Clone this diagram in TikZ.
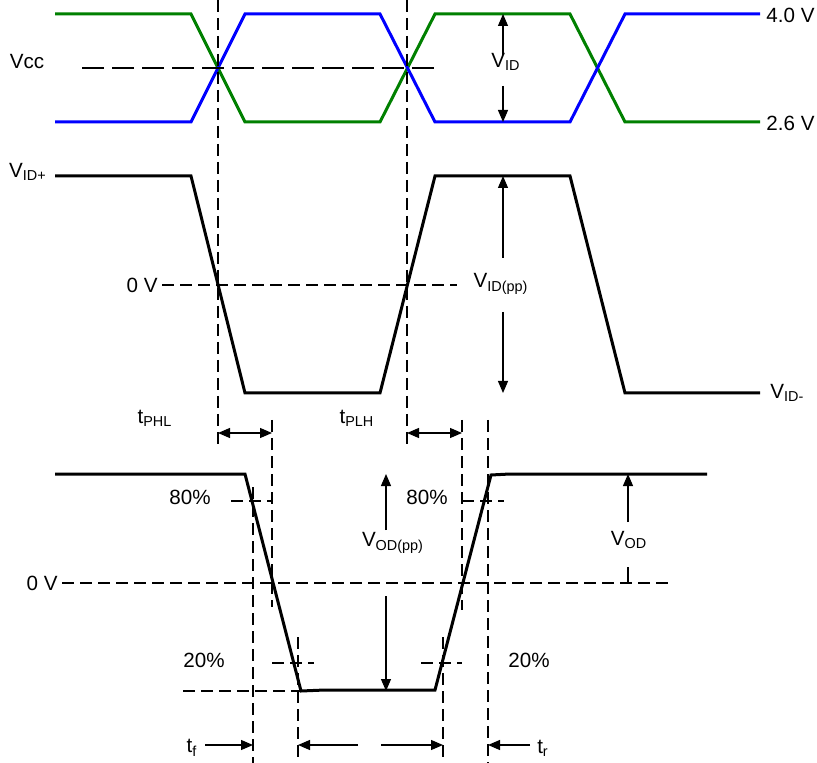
\documentclass[tikz,border=0pt]{standalone}
\usepackage{fontspec}
\setmainfont{Liberation Sans}
\usetikzlibrary{arrows.meta}
\definecolor{sigblue}{RGB}{0,0,255}
\definecolor{siggreen}{RGB}{0,128,0}
\tikzset{
  wave/.style={line width=1.5pt},
  guide/.style={line width=0.6pt,dash pattern=on 6pt off 3pt},
  longguide/.style={line width=0.6pt,dash pattern=on 11pt off 4pt},
  dim/.style={line width=0.6pt,-{Triangle[length=6pt,width=5pt]}},
  dimboth/.style={line width=0.6pt,{Triangle[length=6pt,width=5pt]}-{Triangle[length=6pt,width=5pt]}},
  lbl/.style={inner sep=1pt,font=\fontsize{10.3}{12}\selectfont}
}
\begin{document}
\begin{tikzpicture}[x=0.5pt,y=-0.5pt]
            \useasboundingbox (0,0) rectangle (817,763);
            % input pair
            \draw[wave,siggreen](55,14)--(191,14)--(245,122)--(380,122)--(435,14)--(570,14)--(625,122)--(760,122);
            \draw[wave,sigblue](55,122)--(191,122)--(245,14)--(380,14)--(435,122)--(570,122)--(625,14)--(760,14);
            \draw[longguide](82,68)--(435,68);
            \node[lbl] (vcc) at (27,62) {Vcc};
            \node[lbl,anchor=west] (vhi) at (764,15) {4.0 V};
            \node[lbl,anchor=west] (vlo) at (764,123) {2.6 V};
            \node[lbl] (vid) at (506,62) {V\textsubscript{ID}};
            \draw[dim](503,55)--(503,14);
            \draw[dim](503,86)--(503,122);
            % differential input
            \draw[wave](55,176)--(191,176)--(245,393)--(380,393)--(435,176)--(570,176)--(625,393)--(760,393);
            \draw[guide](162,285)--(457,285);
            \node[lbl] (vidp) at (28,172) {V\textsubscript{ID+}};
            \node[lbl,anchor=east] (zeroin) at (160,285) {0 V};
            \node[lbl] (vidpp) at (501,284) {V\textsubscript{ID(pp)}};
            \node[lbl,anchor=west] (vidm) at (768,393) {V\textsubscript{ID-}};
            \draw[dim](503,258)--(503,176);
            \draw[dim](503,312)--(503,393);
            % delay markers
            \draw[guide](218,0)--(218,447);
            \draw[guide](407,0)--(407,447);
            \draw[guide](272,420)--(272,607);
            \draw[guide](462,420)--(462,610);
            \draw[guide](488,420)--(488,763);
            \node[lbl] (tphl) at (155,418) {t\textsubscript{PHL}};
            \node[lbl] (tplh) at (357,418) {t\textsubscript{PLH}};
            \draw[dimboth](218,433)--(272,433);
            \draw[dimboth](407,433)--(462,433);
            % output
            \draw[wave](55,474)--(245,474)--(301,691)--(325,690)--(435,690)--(491,475)--(510,474)--(707,474);
            \draw[guide](62,583)--(673,583);
            \draw[guide](231,501)--(272,501);
            \draw[guide](462,501)--(504,501);
            \draw[guide](272,663)--(314,663);
            \draw[guide](421,663)--(462,663);
            \draw[guide](183,691)--(301,691);
            \draw[guide](253,487)--(253,763);
            \draw[guide](298,637)--(298,763);
            \draw[guide](443,637)--(443,763);
            \node[lbl,anchor=east] (zeroout) at (60,583) {0 V};
            \node[lbl] (eightyl) at (190,497) {80\%};
            \node[lbl] (eightyr) at (427,497) {80\%};
            \node[lbl] (twentyl) at (204,660) {20\%};
            \node[lbl] (twentyr) at (529,660) {20\%};
            \node[lbl] (vodpp) at (393,543) {V\textsubscript{OD(pp)}};
            \node[lbl] (vod) at (629,540) {V\textsubscript{OD}};
            \draw[dim](386,530)--(386,474);
            \draw[dim](386,596)--(386,691);
            \draw[line width=0.6pt](628,567)--(628,583);
            \draw[dim](628,522)--(628,474);
            % rise and fall times
            \node[lbl] (tf) at (192,748) {t\textsubscript{f}};
            \node[lbl] (tr) at (543,748) {t\textsubscript{r}};
            \draw[dim](205,745)--(253,745);
            \draw[dim](358,745)--(298,745);
            \draw[dim](381,745)--(443,745);
            \draw[dim](530,745)--(488,745);
        \end{tikzpicture}
\end{document}
